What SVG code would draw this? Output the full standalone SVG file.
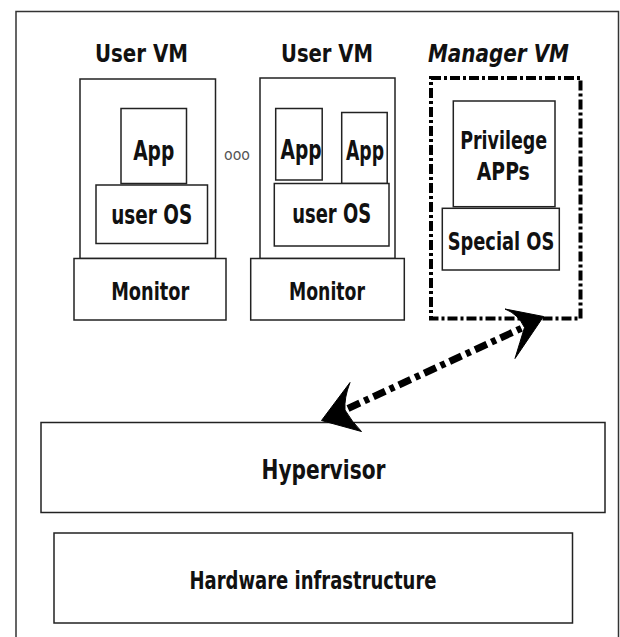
<svg xmlns="http://www.w3.org/2000/svg" width="620" height="637" viewBox="0 0 620 637">
<style>
.box{fill:#fff;stroke:#222;stroke-width:1.5}
.t{font-family:"DejaVu Sans Condensed","DejaVu Sans",sans-serif;font-weight:bold;fill:#111;text-anchor:middle;font-stretch:condensed}
.dash{fill:none;stroke:#000;stroke-width:4;stroke-dasharray:10 3 3 3}
.conn{fill:none;stroke:#000;stroke-width:7;stroke-dasharray:13 5 5 5}
.head{fill:#000;stroke:#000;stroke-width:1;stroke-linejoin:miter}
</style>
<rect width="620" height="637" fill="#fff"/>
<g id="frame"><path d="M16 640 V11.5 H618.5 V640" fill="none" stroke="#333" stroke-width="1.5"/></g>

<g id="uservm1">
<text class="t" x="141.5" y="61.5" font-size="25" textLength="93" lengthAdjust="spacingAndGlyphs">User VM</text>
<rect class="box" x="80" y="79" width="135.5" height="179.5"/>
<g id="app1"><rect class="box" x="121" y="108.5" width="65.5" height="75"/>
<text class="t" x="153.7" y="160" font-size="27" textLength="41" lengthAdjust="spacingAndGlyphs">App</text></g>
<g id="useros1"><rect class="box" x="96" y="185" width="111.5" height="58.5"/>
<text class="t" x="151.7" y="224" font-size="26" textLength="81" lengthAdjust="spacingAndGlyphs">user OS</text></g>
<g id="monitor1"><rect class="box" x="74" y="258.5" width="152" height="61.5"/>
<text class="t" x="150.2" y="299.5" font-size="25" textLength="78" lengthAdjust="spacingAndGlyphs">Monitor</text></g>
</g>

<g id="dots"><text x="237" y="160" font-family="DejaVu Sans,sans-serif" font-size="15" fill="#555" text-anchor="middle" textLength="26" lengthAdjust="spacingAndGlyphs">ooo</text></g>

<g id="uservm2">
<text class="t" x="327" y="61.5" font-size="25" textLength="92" lengthAdjust="spacingAndGlyphs">User VM</text>
<rect class="box" x="260" y="78" width="135" height="180.5"/>
<g id="app2a"><rect class="box" x="275.7" y="108.5" width="46.5" height="71.5"/>
<text class="t" x="301" y="158.5" font-size="27" textLength="41" lengthAdjust="spacingAndGlyphs">App</text></g>
<g id="app2b"><rect class="box" x="341.7" y="112.5" width="45.5" height="71"/>
<text class="t" x="365" y="159.5" font-size="27" textLength="38" lengthAdjust="spacingAndGlyphs">App</text></g>
<g id="useros2"><rect class="box" x="274.3" y="183.5" width="114.7" height="62.5"/>
<text class="t" x="331.7" y="223" font-size="26" textLength="79" lengthAdjust="spacingAndGlyphs">user OS</text></g>
<g id="monitor2"><rect class="box" x="250.7" y="258.5" width="153.6" height="61.5"/>
<text class="t" x="327" y="299.5" font-size="25" textLength="76" lengthAdjust="spacingAndGlyphs">Monitor</text></g>
</g>

<g id="managervm">
<text class="t" x="498.5" y="61.5" font-size="25" font-style="italic" textLength="141" lengthAdjust="spacingAndGlyphs">Manager VM</text>
<rect class="dash" x="431" y="78" width="149.5" height="240.5"/>
<g id="privapps"><rect class="box" x="453.3" y="101" width="101.7" height="105.7"/>
<text class="t" x="503.7" y="148.5" font-size="25" textLength="87" lengthAdjust="spacingAndGlyphs">Privilege</text>
<text class="t" x="503.3" y="180" font-size="25" textLength="53" lengthAdjust="spacingAndGlyphs">APPs</text></g>
<g id="specialos"><rect class="box" x="442.3" y="208.3" width="117" height="61.7"/>
<text class="t" x="501" y="250" font-size="25" textLength="106.7" lengthAdjust="spacingAndGlyphs">Special OS</text></g>
</g>

<g id="hypervisor"><rect class="box" x="41" y="422.5" width="564" height="90"/>
<text class="t" x="323.5" y="479" font-size="27" textLength="124" lengthAdjust="spacingAndGlyphs">Hypervisor</text></g>

<g id="hardware"><rect class="box" x="54" y="533" width="518.5" height="90"/>
<text class="t" x="313" y="588.5" font-size="24" textLength="247" lengthAdjust="spacingAndGlyphs">Hardware infrastructure</text></g>

<g id="connectors">
<line class="conn" x1="348" y1="408.5" x2="522" y2="328"/>
<path class="head" d="M543.5 316.5 L505 309 Q518 314 524.5 327.5 Q520 342 515 358.5 Z"/>
<path class="head" d="M321.5 420.5 L350 382.5 Q344 398 345 410 Q352 422 361.5 431.5 Z"/>
</g>
</svg>
